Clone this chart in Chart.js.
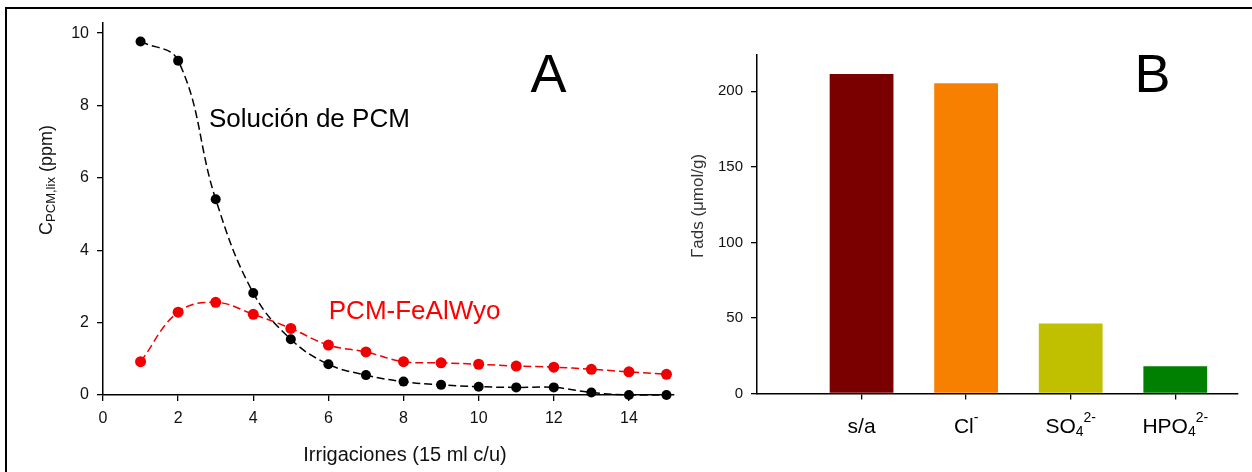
<!DOCTYPE html>
<html>
<head>
<meta charset="utf-8">
<style>
  html, body { margin: 0; padding: 0; background: #fff; overflow: hidden; }
  #wrap { position: relative; width: 1252px; height: 472px; }
  #frame { position: absolute; left: 5px; top: 7px; width: 1300px; height: 520px; border: 2.5px solid #000; }
  canvas { position: absolute; top: 0; }
</style>
<script src="https://cdn.jsdelivr.net/npm/chart.js"></script>
</head>
<body>
<div id="wrap">
  <div id="frame"></div>
  <canvas id="chartA" width="680" height="472" style="left:0"></canvas>
  <canvas id="chartB" width="580" height="472" style="left:672px"></canvas>
</div>

<script>
  // panel A: concentration in leachate per irrigation
  const irrigations = [1, 2, 3, 4, 5, 6, 7, 8, 9, 10, 11, 12, 13, 14, 15];
  const pcmSolution = [9.77, 9.24, 5.41, 2.82, 1.54, 0.85, 0.55, 0.37, 0.28, 0.23, 0.21, 0.21, 0.07, 0.0, 0.0];
  const pcmFeAlWyo = [0.92, 2.29, 2.56, 2.23, 1.84, 1.38, 1.19, 0.92, 0.89, 0.85, 0.80, 0.77, 0.71, 0.64, 0.57];
  const xTicksA = [0, 2, 4, 6, 8, 10, 12, 14];
  const yTicksA = [0, 2, 4, 6, 8, 10];

  // panel B: adsorbed amount by competing anion
  const anionLabels = ['s/a', 'Cl⁻', 'SO₄²⁻', 'HPO₄²⁻'];
  const adsorbed = [211.5, 205.3, 46.4, 18.1];
  const barColors = ['#7a0000', '#f88000', '#c0c000', '#008000'];
  const yTicksB = [0, 50, 100, 150, 200];

  const FONT = "'Liberation Sans', Arial, sans-serif";
  const SUB = '₀₁₂₃₄₅₆₇₈₉';
  const SUP = '⁰¹²³⁴⁵⁶⁷⁸⁹⁻';

  function drawRuns(ctx, runs, x, y, align) {
    let w = 0;
    runs.forEach(r => {
      ctx.font = r.size + 'px ' + FONT;
      r.w = ctx.measureText(r.t).width;
      w += r.w;
    });
    let cx = align === 'center' ? x - w / 2 : x;
    runs.forEach(r => {
      ctx.font = r.size + 'px ' + FONT;
      ctx.fillText(r.t, cx, y + (r.dy || 0));
      cx += r.w;
    });
  }

  // turn unicode sub/superscripts into smaller shifted runs
  function toRuns(label, size) {
    const runs = [];
    for (const ch of label) {
      let kind = 'n', c = ch;
      if (SUB.includes(ch)) { kind = 'sub'; c = String(SUB.indexOf(ch)); }
      else if (SUP.includes(ch)) {
        kind = 'sup';
        const i = SUP.indexOf(ch);
        c = i === 10 ? '-' : String(i);
      }
      const last = runs[runs.length - 1];
      if (last && last.kind === kind) last.t += c;
      else runs.push({ kind, t: c });
    }
    return runs.map(r => ({
      t: r.t,
      size: r.kind === 'n' ? size : Math.round(size * 0.66),
      dy: r.kind === 'sub' ? size * 0.12 : r.kind === 'sup' ? -size * 0.54 : 0
    }));
  }

  function fixedTicks(values) {
    return scale => { scale.ticks = values.map(v => ({ value: v })); };
  }

  const axisGrid = { display: true, drawOnChartArea: false, drawTicks: true, tickLength: 6, color: '#000', lineWidth: 1.3 };
  const axisBorder = { display: true, color: '#000', width: 1.5 };

  const textsA = {
    id: 'textsA',
    afterDraw(chart) {
      const ctx = chart.ctx;
      const xs = chart.scales.x, ys = chart.scales.y;
      ctx.save();
      ctx.textAlign = 'left';
      ctx.textBaseline = 'alphabetic';
      ctx.fillStyle = '#000';
      ctx.font = '54px ' + FONT;
      ctx.fillText('A', xs.getPixelForValue(11.38), ys.getPixelForValue(8.37));
      ctx.font = '26px ' + FONT;
      ctx.fillText('Solución de PCM', xs.getPixelForValue(2.82), ys.getPixelForValue(7.40));
      ctx.fillStyle = '#ff0000';
      ctx.fillText('PCM-FeAlWyo', xs.getPixelForValue(6.01), ys.getPixelForValue(2.10));

      ctx.fillStyle = '#111';
      drawRuns(ctx, [{ t: 'Irrigaciones (15 ml c/u)', size: 20 }], 405, 461, 'center');

      ctx.translate(51.5, 180);
      ctx.rotate(-Math.PI / 2);
      drawRuns(ctx, [
        { t: 'C', size: 18 },
        { t: 'PCM,lix', size: 13, dy: 3 },
        { t: ' (ppm)', size: 18 }
      ], 0, 0, 'center');
      ctx.restore();
    }
  };

  const textsB = {
    id: 'textsB',
    afterDraw(chart) {
      const ctx = chart.ctx;
      const xs = chart.scales.x, ys = chart.scales.y;
      ctx.save();
      ctx.textAlign = 'left';
      ctx.textBaseline = 'alphabetic';
      ctx.fillStyle = '#000';
      ctx.font = '54px ' + FONT;
      ctx.fillText('B', xs.getPixelForValue(3.61), ys.getPixelForValue(199.8));

      anionLabels.forEach((lab, i) => {
        drawRuns(ctx, toRuns(lab, 21), xs.getPixelForValue(i + 1), 433, 'center');
      });

      ctx.fillStyle = '#333';
      ctx.translate(30.5, 206);
      ctx.rotate(-Math.PI / 2);
      drawRuns(ctx, [{ t: 'Γads (μmol/g)', size: 17 }], 0, 0, 'center');
      ctx.restore();
    }
  };

  new Chart(document.getElementById('chartA'), {
    type: 'line',
    data: {
      datasets: [
        {
          label: 'Solución de PCM',
          data: irrigations.map((x, i) => ({ x, y: pcmSolution[i] })),
          borderColor: '#000',
          backgroundColor: '#000',
          borderWidth: 1.5,
          borderDash: [8, 4],
          pointRadius: 5,
          pointBorderWidth: 0,
          tension: 0.4,
          clip: false
        },
        {
          label: 'PCM-FeAlWyo',
          data: irrigations.map((x, i) => ({ x, y: pcmFeAlWyo[i] })),
          borderColor: '#f00000',
          backgroundColor: '#f00000',
          borderWidth: 1.5,
          borderDash: [8, 4],
          pointRadius: 5.5,
          pointBorderWidth: 0,
          tension: 0.4,
          clip: false
        }
      ]
    },
    options: {
      responsive: false,
      animation: false,
      layout: { padding: { top: 23, right: 6, left: 0, bottom: 0 } },
      plugins: { legend: { display: false }, tooltip: { enabled: false } },
      scales: {
        x: {
          type: 'linear',
          min: 0,
          max: 15.2,
          afterBuildTicks: fixedTicks(xTicksA),
          afterFit: s => { s.height = 77; },
          grid: axisGrid,
          border: axisBorder,
          ticks: { color: '#111', font: { size: 16, family: FONT }, padding: 8, maxRotation: 0 }
        },
        y: {
          min: 0,
          max: 10.28,
          afterBuildTicks: fixedTicks(yTicksA),
          afterFit: s => { s.width = 103; },
          grid: axisGrid,
          border: axisBorder,
          ticks: { color: '#111', font: { size: 16, family: FONT }, padding: 8 }
        }
      }
    },
    plugins: [textsA]
  });

  new Chart(document.getElementById('chartB'), {
    type: 'bar',
    data: {
      datasets: [{
        data: adsorbed.map((y, i) => ({ x: i + 1, y })),
        backgroundColor: barColors,
        borderWidth: 0,
        barPercentage: 1,
        categoryPercentage: 0.61
      }]
    },
    options: {
      responsive: false,
      animation: false,
      layout: { padding: { top: 55, right: 14, left: 0, bottom: 0 } },
      plugins: { legend: { display: false }, tooltip: { enabled: false } },
      scales: {
        x: {
          type: 'linear',
          min: 0,
          max: 4.6,
          offset: false,
          afterBuildTicks: scale => { scale.ticks = anionLabels.map((c, i) => ({ value: i + 1 })); },
          afterFit: s => { s.height = 78.5; },
          grid: Object.assign({}, axisGrid, { offset: false }),
          border: axisBorder,
          ticks: { display: false }
        },
        y: {
          min: 0,
          max: 224,
          afterBuildTicks: fixedTicks(yTicksB),
          afterFit: s => { s.width = 85; },
          grid: axisGrid,
          border: axisBorder,
          ticks: { color: '#111', font: { size: 15, family: FONT }, padding: 8 }
        }
      }
    },
    plugins: [textsB]
  });
</script>
</body>
</html>
